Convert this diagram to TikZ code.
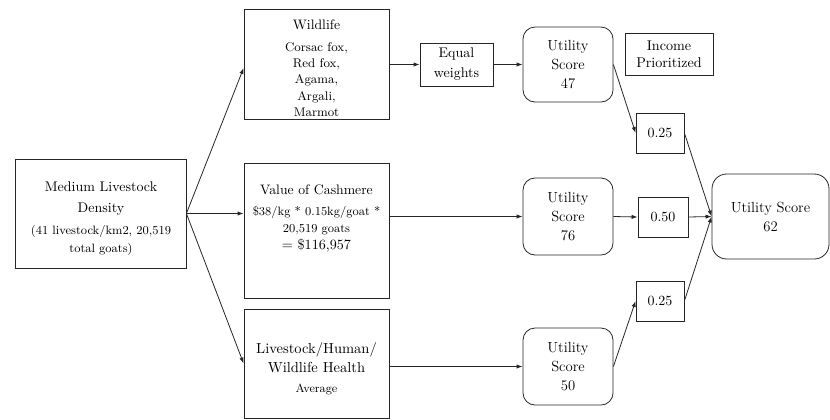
\documentclass[tikz,border=0pt]{standalone}
\usetikzlibrary{arrows.meta}
\begin{document}
\begin{tikzpicture}[x=0.75pt,y=-0.75pt,
  box/.style={draw=black!85,line width=0.6pt,inner sep=0pt,rectangle},
  rbox/.style={box,rounded corners=9pt},
  txt/.style={inner sep=0pt,align=center,text=black},
  arr/.style={draw=black!85,line width=0.6pt,-{Latex[length=4.5pt,width=3.2pt]}},
  ln/.style={draw=black!85,line width=0.6pt}]
\useasboundingbox (0,0) rectangle (830,419);
% boxes
\node[box,minimum width=128.25pt,minimum height=81.75pt] (med) at (100.5,213.5) {};
\node[box,minimum width=108.75pt,minimum height=82.5pt] (wild) at (316.5,64) {};
\node[box,minimum width=108.75pt,minimum height=101.25pt] (cash) at (316.5,230.5) {};
\node[box,minimum width=108.75pt,minimum height=81.75pt] (health) at (316.5,363.5) {};
\node[box,minimum width=54.75pt,minimum height=32.25pt,txt,font=\fontsize{10.5}{15}\selectfont] (eq) at (456.5,64.5) {Equal\\weights};
\node[rbox,minimum width=67.5pt,minimum height=56.25pt,txt,font=\fontsize{11}{14.25}\selectfont] (u47) at (568,64.5) {Utility\\Score\\47};
\node[box,minimum width=66pt,minimum height=31.5pt,txt,font=\fontsize{10.6}{12.75}\selectfont] (inc) at (669,54) {Income\\Prioritized};
\node[box,minimum width=36pt,minimum height=30pt,txt,font=\fontsize{10.5}{14}\selectfont] (w1) at (660,133) {0.25};
\node[rbox,minimum width=67.5pt,minimum height=57.75pt,txt,font=\fontsize{11}{14.25}\selectfont] (u76) at (568,216.5) {Utility\\Score\\76};
\node[box,minimum width=37.5pt,minimum height=30pt,txt,font=\fontsize{10.5}{14}\selectfont] (w2) at (663,217) {0.50};
\node[rbox,rounded corners=11pt,minimum width=87.75pt,minimum height=63.75pt,txt,font=\fontsize{11}{14.25}\selectfont] (u62) at (770.5,216.5) {Utility Score\\62};
\node[box,minimum width=36pt,minimum height=30pt,txt,font=\fontsize{10.5}{14}\selectfont] (w3) at (660,301) {0.25};
\node[rbox,minimum width=67.5pt,minimum height=57.75pt,txt,font=\fontsize{11}{14.25}\selectfont] (u50) at (568,366.5) {Utility\\Score\\50};
% texts inside boxes
\node[txt,font=\fontsize{10.5}{15.75}\selectfont] (medA) at (101,198.5) {Medium Livestock\\Density};
\node[txt,font=\fontsize{9.1}{13.5}\selectfont] (medB) at (101,240) {(41 livestock/km2, 20,519\\total goats)};
\node[txt,font=\fontsize{10.3}{14}\selectfont] (wildA) at (316.5,25) {Wildlife};
\node[txt,font=\fontsize{9.4}{12.2}\selectfont] (wildB) at (316.5,79.5) {Corsac fox,\\Red fox,\\Agama,\\Argali,\\Marmot};
\node[txt,font=\fontsize{10.3}{14}\selectfont] (cashA) at (316.5,190) {Value of Cashmere};
\node[txt,font=\fontsize{9.1}{12.75}\selectfont] (cashB) at (316.5,220.5) {\$38/kg * 0.15kg/goat *\\20,519 goats};
\node[txt,font=\fontsize{10.6}{14}\selectfont] (cashC) at (316.5,246) {= \$116,957};
\node[txt,font=\fontsize{10.9}{14.25}\selectfont] (healthA) at (316.5,357.5) {Livestock/Human/\\Wildlife Health};
\node[txt,font=\fontsize{8.9}{12}\selectfont] (healthB) at (316.5,389) {Average};
% connectors
\draw[arr] (med.east) -- ([yshift=-3pt]wild.west);
\draw[arr] (med.east) -- (cash.west |- med.east);
\draw[arr] (med.east) -- (health.west);
\draw[arr] (wild.east |- eq.west) -- (eq.west);
\draw[arr] (eq.east) -- (u47.west);
\draw[arr] (cash.east |- u76.west) -- (u76.west);
\draw[arr] (health.east |- u50.west) -- (u50.west);
\draw[arr] (u47.east) -- (w1.west);
\draw[arr] (u76.east) -- (w2.west);
\draw[arr] (u50.east) -- (w3.west);
\draw[arr] (w1.east) -- (u62.west);
\draw[arr] (w2.east) -- (u62.west);
\draw[arr] (w3.east) -- (u62.west);
\end{tikzpicture}
\end{document}
